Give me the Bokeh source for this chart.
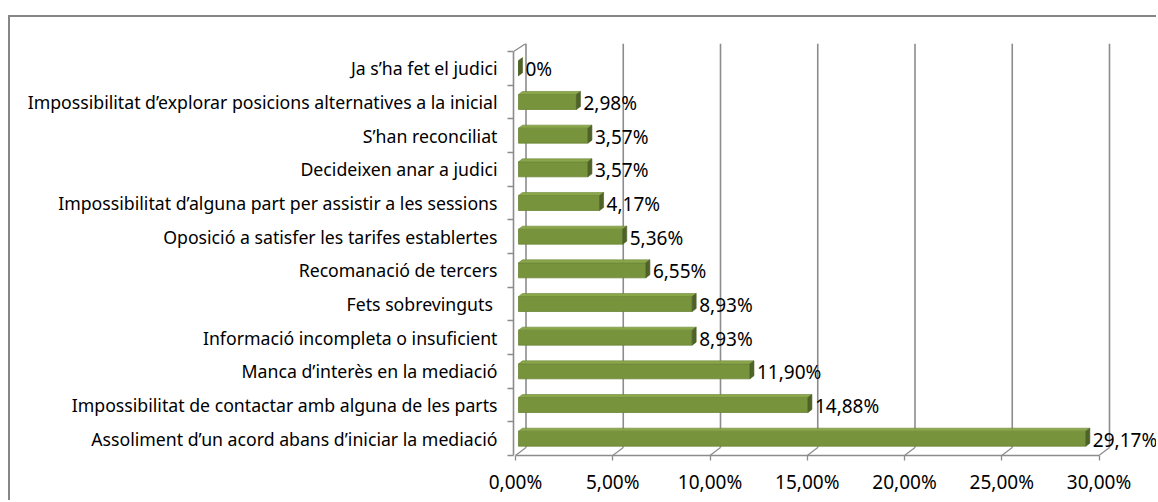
from bokeh.plotting import figure
from bokeh.models import Range1d, FixedTicker, LinearAxis, ColumnDataSource
from bokeh.core.properties import value
from bokeh.embed import file_html
from bokeh.resources import INLINE

# ---- data (top to bottom as in the chart) ----
categories = [
    "Ja s\u2019ha fet el judici",
    "Impossibilitat d\u2019explorar posicions alternatives a la inicial",
    "S\u2019han reconciliat",
    "Decideixen anar a judici",
    "Impossibilitat d\u2019alguna part per assistir a les sessions",
    "Oposició a satisfer les tarifes establertes",
    "Recomanació de tercers",
    "Fets sobrevinguts ",
    "Informació incompleta o insuficient",
    "Manca d\u2019interès en la mediació",
    "Impossibilitat de contactar amb alguna de les parts",
    "Assoliment d\u2019un acord abans d\u2019iniciar la mediació",
]
values = [0, 2.98, 3.57, 3.57, 4.17, 5.36, 6.55, 8.93, 8.93, 11.90, 14.88, 29.17]
value_labels = ["0%", "2,98%", "3,57%", "3,57%", "4,17%", "5,36%", "6,55%",
                "8,93%", "8,93%", "11,90%", "14,88%", "29,17%"]
x_ticks = [0, 5, 10, 15, 20, 25, 30]
x_tick_labels = ["0,00%", "5,00%", "10,00%", "15,00%", "20,00%", "25,00%", "30,00%"]

FONT = "Noto Sans"
GREEN = "#77933C"
GREEN_TOP = "#8AA84A"
GREEN_DARK = "#4F6228"
GRID = "#8C8C8C"

# ---- geometry ----
W, H = 1148, 485
PX = 19.45          # px per percent
ROW = 33.67         # px per category
LEFT, TOP, BOTTOM = 503, 26, 47
FRAME_W = W - LEFT
FRAME_H = H - TOP - BOTTOM
x0 = -5 / PX
xr = Range1d(x0, x0 + FRAME_W / PX)
yr = Range1d(-0.5, -0.5 + FRAME_H / ROW)

n = len(categories)
ypos = [n - 1 - i for i in range(n)]   # top category at top

p = figure(width=W, height=H, x_range=xr, y_range=yr,
           output_backend="svg", toolbar_location=None,
           min_border_left=LEFT, min_border_right=0,
           min_border_top=TOP, min_border_bottom=BOTTOM)
# outer chart border: only its left and top edges are visible
p.styles = {"margin-top": "15px", "margin-left": "8px",
            "border-left": "2px solid #868686", "border-top": "2px solid #868686"}
p.outline_line_color = None
p.xgrid.visible = False
p.ygrid.visible = False
p.xaxis.visible = False
p.yaxis.visible = False

# extra range for the front floor axis
p.extra_x_ranges = {"front": Range1d(xr.start + 3 / PX, xr.end + 3 / PX)}

# back-wall gridlines and floor diagonals
back = 7.5 / PX
front = -3 / PX
yb = -0.5 + 8 / ROW
p.segment(x0=[t + back for t in x_ticks], y0=[yb] * len(x_ticks),
          x1=[t + back for t in x_ticks], y1=[yr.end] * len(x_ticks),
          line_color=GRID, line_width=1.6)
p.segment(x0=[t + back for t in x_ticks], y0=[yb] * len(x_ticks),
          x1=[t + front for t in x_ticks], y1=[-0.5] * len(x_ticks),
          line_color=GRID, line_width=1.3)
p.segment(x0=[x0], y0=[n - 0.5], x1=[back], y1=[yr.end],
          line_color=GRID, line_width=1.3)

# bars with pseudo-3D top and end cap
h = 15 / ROW / 2
dx = 4 / PX
dy = 3 / ROW
front_xs, front_ys, top_xs, top_ys, cap_xs, cap_ys = [], [], [], [], [], []
for v, y in zip(values, ypos):
    front_xs.append([0, v, v, 0]); front_ys.append([y - h, y - h, y + h, y + h])
    top_xs.append([0, v, v + dx, dx]); top_ys.append([y + h, y + h, y + h + dy, y + h + dy])
    cap_xs.append([v, v + dx, v + dx, v]); cap_ys.append([y - h, y - h + dy, y + h + dy, y + h])
p.patches(front_xs, front_ys, fill_color=GREEN, line_color="#6B8535", line_width=0.8)
p.patches(top_xs, top_ys, fill_color=GREEN_TOP, line_color="#6B8535", line_width=0.6)
p.patches(cap_xs, cap_ys, fill_color=GREEN_DARK, line_color=GREEN_DARK, line_width=0.6)

src = ColumnDataSource(dict(x=values, y=ypos, t=value_labels))
p.text(x="x", y="y", text="t", source=src, x_offset=7, y_offset=1,
       text_font=value(FONT), text_font_size="19px", text_color="#000000",
       text_baseline="middle", text_align="left")

# left category axis
yaxis = LinearAxis(ticker=FixedTicker(ticks=ypos, minor_ticks=[i - 0.5 for i in range(n + 1)]),
                   bounds=(-0.5, n - 0.5))
yaxis.major_label_overrides = {y: c for y, c in zip(ypos, categories)}
yaxis.major_tick_out = 0
yaxis.major_tick_in = 0
yaxis.minor_tick_out = 6
yaxis.minor_tick_in = 0
yaxis.minor_tick_line_color = GRID
yaxis.minor_tick_line_width = 1.3
yaxis.axis_line_color = GRID
yaxis.axis_line_width = 1.6
yaxis.major_label_standoff = 10
yaxis.major_label_text_font = FONT
yaxis.major_label_text_font_size = "17.7px"
yaxis.major_label_text_color = "#000000"
p.add_layout(yaxis, "left")

# bottom value axis (front floor edge)
xaxis = LinearAxis(x_range_name="front", ticker=FixedTicker(ticks=x_ticks, minor_ticks=[]),
                   bounds=(0, 30))
xaxis.major_label_overrides = {t: l for t, l in zip(x_ticks, x_tick_labels)}
xaxis.major_tick_out = 5
xaxis.major_tick_in = 0
xaxis.major_tick_line_color = GRID
xaxis.major_tick_line_width = 1.3
xaxis.axis_line_color = GRID
xaxis.axis_line_width = 1.6
xaxis.major_label_standoff = 8
xaxis.major_label_text_font = FONT
xaxis.major_label_text_font_size = "19px"
xaxis.major_label_text_color = "#000000"
p.add_layout(xaxis, "below")

open("out.html", "w").write(file_html(p, INLINE))
